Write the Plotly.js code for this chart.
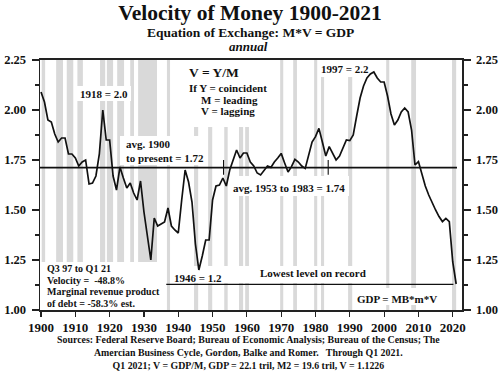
<!DOCTYPE html>
<html><head><meta charset="utf-8">
<script src="https://cdn.plot.ly/plotly-3.0.1.min.js"></script>
<style>html,body{margin:0;padding:0;background:#fff}#chart{width:500px;height:371px}</style>
</head><body><div id="chart"></div>
<script>
// ---- data ----
const years = [1900,1901,1902,1903,1904,1905,1906,1907,1908,1909,
1910,1911,1912,1913,1914,1915,1916,1917,1918,1919,
1920,1921,1922,1923,1924,1925,1926,1927,1928,1929,
1930,1931,1932,1933,1934,1935,1936,1937,1938,1939,
1940,1941,1942,1943,1944,1945,1946,1947,1948,1949,
1950,1951,1952,1953,1954,1955,1956,1957,1958,1959,
1960,1961,1962,1963,1964,1965,1966,1967,1968,1969,
1970,1971,1972,1973,1974,1975,1976,1977,1978,1979,
1980,1981,1982,1983,1984,1985,1986,1987,1988,1989,
1990,1991,1992,1993,1994,1995,1996,1997,1998,1999,
2000,2001,2002,2003,2004,2005,2006,2007,2008,2009,
2010,2011,2012,2013,2014,2015,2016,2017,2018,2019,
2020,2021];
const velocity = [2.09,2.04,1.95,1.94,1.88,1.84,1.86,1.86,1.78,1.78,
1.76,1.72,1.74,1.75,1.63,1.635,1.67,1.78,2.00,1.85,
1.85,1.67,1.60,1.715,1.66,1.61,1.635,1.585,1.55,1.645,
1.49,1.36,1.25,1.46,1.42,1.43,1.44,1.51,1.42,1.40,
1.385,1.55,1.70,1.64,1.54,1.33,1.20,1.27,1.35,1.35,
1.55,1.62,1.625,1.66,1.62,1.70,1.75,1.80,1.76,1.785,
1.785,1.74,1.72,1.685,1.675,1.70,1.72,1.713,1.74,1.76,
1.783,1.735,1.69,1.717,1.753,1.74,1.72,1.708,1.78,1.84,
1.867,1.908,1.84,1.77,1.817,1.783,1.75,1.77,1.808,1.85,
1.847,1.875,1.97,2.06,2.12,2.16,2.18,2.19,2.16,2.14,
2.14,2.07,1.98,1.925,1.95,1.99,2.01,1.99,1.90,1.725,
1.742,1.683,1.62,1.575,1.535,1.50,1.467,1.442,1.458,1.442,
1.24,1.13];
const recessionStart = [1900.2,1904.4,1907.5,1910.6,1917.2,1919.2,1922.2,1926.0,1928.3,1936.7,1944.6,1948.7,1953.4,1957.7,1959.5,1969.7,1973.5,1979.6,1981.6,1989.5,2000.6,2007.9,2019.8];
const recessionEnd   = [1901.2,1906.4,1909.4,1912.2,1918.7,1921.0,1924.2,1927.1,1933.8,1937.6,1945.8,1949.9,1954.4,1958.9,1960.6,1970.6,1974.6,1980.5,1982.5,1990.7,2001.5,2009.3,2021.0];
const avgAll = 1.712;          // "avg. 1900 to present = 1.72"
const avgPeriodYears = [1953.2, 1983.7];
const lowestLevel = 1.128;     // "Lowest level on record"
const lowestSpan = [1936.5, 2020.2];
const xTickVals = [1900,1910,1920,1930,1940,1950,1960,1970,1980,1990,2000,2010,2020];
const yTickVals = [1.00,1.25,1.50,1.75,2.00,2.25];
const sourceLines = [
  'Sources: Federal Reserve Board; Bureau of Economic Analysis; Bureau of the Census; The',
  'Amercian Business Cycle, Gordon, Balke and Romer.   Through Q1 2021.',
  'Q1 2021; V = GDP/M, GDP = 22.1 tril, M2 = 19.6 tril, V = 1.1226'
];

// ---- helpers (pixel -> paper) for text placement ----
const L = 40, R = 462, T = 60, B = 310;
const PX = px => (px - L) / (R - L);
const PY = py => (B - py) / (B - T);
const FONT = "Liberation Serif, 'Times New Roman', serif";

const shapes = [];
for (let i = 0; i < recessionStart.length; i++) {
  shapes.push({type:'rect', xref:'x', yref:'paper', x0:recessionStart[i], x1:recessionEnd[i], y0:0, y1:1,
    fillcolor:'#d9d9d9', line:{width:0}, layer:'below'});
}
// white label backgrounds
const boxes = [[77,86,131,101],[178,60,272,127],[120,136,207,165],[229,176,349,196],[318,60,371,77],
  [40,262,162,310],[170,266,372,283],[353,288,447,305]];
boxes.forEach(b => shapes.push({type:'rect', xref:'paper', yref:'paper', x0:PX(b[0]), x1:PX(b[2]), y0:PY(b[3]), y1:PY(b[1]),
  fillcolor:'#ffffff', line:{width:0}, layer:'below'}));
// average line
shapes.push({type:'line', xref:'paper', yref:'y', x0:0, x1:PX(457), y0:avgAll, y1:avgAll, line:{color:'#111', width:1.6}, layer:'below'});
avgPeriodYears.forEach(yr => shapes.push({type:'line', xref:'x', yref:'y', x0:yr, x1:yr, y0:avgAll+0.038, y1:avgAll-0.036, line:{color:'#111', width:1.1}, layer:'below'}));
// lowest level line
shapes.push({type:'line', xref:'x', yref:'y', x0:lowestSpan[0], x1:lowestSpan[1], y0:lowestLevel, y1:lowestLevel, line:{color:'#111', width:1.1}, layer:'below'});

function ann(text, px, py, size, anchor) {
  return {text:'<b>'+text+'</b>', xref:'paper', yref:'paper', x:PX(px), y:PY(py), xanchor:anchor||'center', yanchor:'middle',
    showarrow:false, font:{family:FONT, size:size, color:'#111'}};
}
const annotations = [
  ann('1918 = 2.0', 104, 94, 11),
  ann('V = Y/M', 187, 72.5, 13.5, 'left'),
  ann('If Y = coincident', 187, 87.5, 11, 'left'),
  ann('M = leading', 199, 99.5, 11, 'left'),
  ann('V = lagging', 199, 111, 11, 'left'),
  ann('avg. 1900', 124, 144, 11, 'left'),
  ann('to present = 1.72', 124, 157.5, 11, 'left'),
  ann('avg. 1953 to 1983 = 1.74', 289, 187.5, 11),
  ann('1997 = 2.2', 345, 69, 11),
  ann('Q3 97 to Q1 21', 45, 268.5, 10, 'left'),
  ann('Velocity =  -48.8%', 45, 280, 10, 'left'),
  ann('Marginal revenue product', 45, 291.5, 10, 'left'),
  ann('of debt = -58.3% est.', 45, 303, 10, 'left'),
  ann('1946 = 1.2', 198, 278, 11),
  ann('Lowest level on record', 313, 273, 11),
  ann('GDP = MB*m*V', 397, 299, 11),
  ann('Equation of Exchange: M*V = GDP', 250, 33, 13.5),
  ann('<i>annual</i>', 248, 47, 13),
  ann(sourceLines.join('<br>'), 248, 352.5, 9.9)
];

const traces = [
  {x:years, y:velocity, type:'scatter', mode:'lines', line:{color:'#111', width:1.7}, hoverinfo:'skip', showlegend:false},
  {x:[years[0]], y:[velocity[0]], yaxis:'y2', type:'scatter', mode:'markers', marker:{opacity:0}, hoverinfo:'skip', showlegend:false}
];

const yCommon = {range:[1,2.25], tick0:1, dtick:0.25, tickformat:'.2f', ticks:'outside', ticklen:7, tickwidth:1.2, tickcolor:'#222',
  ticklabelstandoff:3,
  minor:{dtick:0.125, tick0:1, ticks:'outside', ticklen:4, tickwidth:1.1, tickcolor:'#222'},
  showline:true, linewidth:1.5, linecolor:'#222', showgrid:false, zeroline:false,
  tickfont:{family:FONT, size:12.5, color:'#111', weight:'bold'}, fixedrange:true};

const layout = {
  width:500, height:371, margin:{l:L, r:500-R, t:T, b:371-B},
  paper_bgcolor:'#fff', plot_bgcolor:'#fff',
  title:{text:'<b>Velocity of Money 1900-2021</b>', x:0.5, xanchor:'center', y:1-12/371, yanchor:'middle',
    font:{family:FONT, size:21.5, color:'#111'}},
  xaxis:{range:[1899.7,2022.7], tickvals:xTickVals, ticks:'outside', ticklen:5, tickwidth:1.2, tickcolor:'#222',
    showline:true, mirror:true, linewidth:1.6, linecolor:'#222', showgrid:false, zeroline:false,
    tickfont:{family:FONT, size:13, color:'#111', weight:'bold'}, fixedrange:true},
  yaxis:Object.assign({side:'left'}, yCommon),
  yaxis2:Object.assign({side:'right', overlaying:'y'}, yCommon),
  shapes:shapes, annotations:annotations, showlegend:false
};
Plotly.newPlot('chart', traces, layout, {staticPlot:true, displayModeBar:false});
</script></body></html>
